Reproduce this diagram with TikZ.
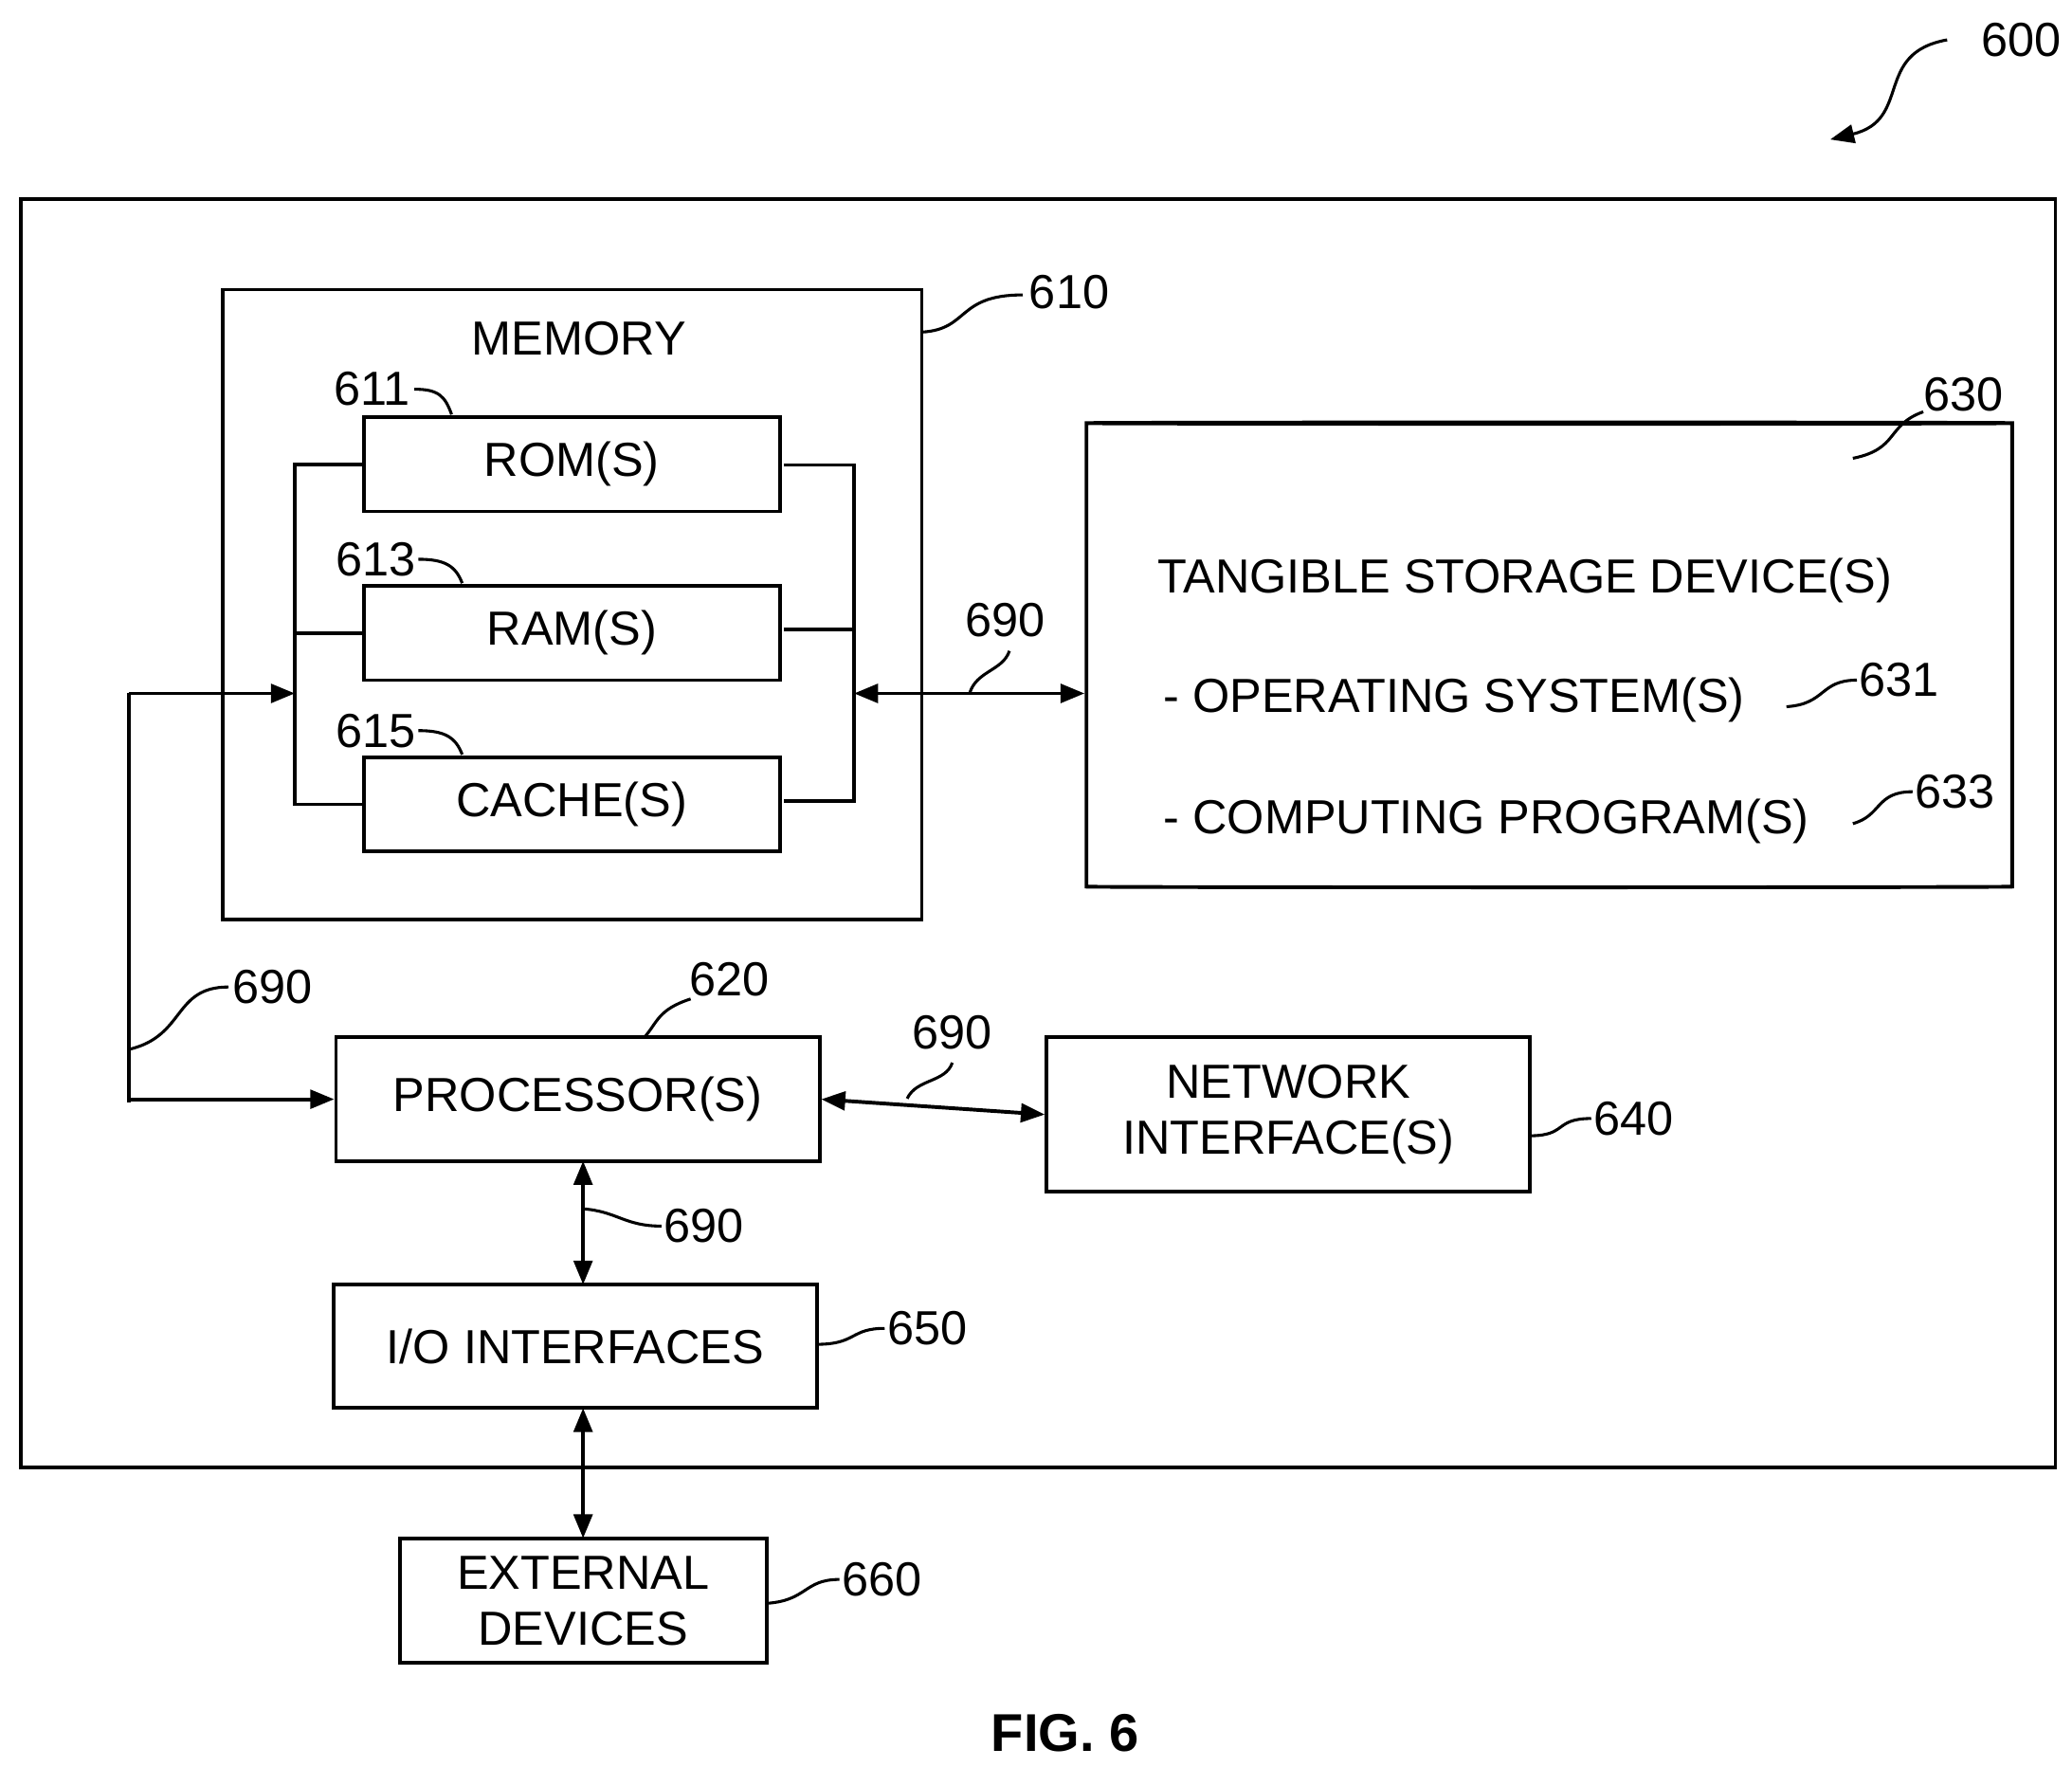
\documentclass[tikz,border=0pt]{standalone}
\usepackage{fontspec}
\setmainfont{Liberation Sans}
\usetikzlibrary{arrows.meta,shapes.geometric}

\begin{document}
\begin{tikzpicture}[x=0.5pt,y=-0.5pt,line width=1.4pt,
  font=\fontsize{18}{21}\selectfont,
  box/.style={draw,rectangle,align=center,inner sep=0pt},
  arr/.style={-{Triangle[length=9pt,width=7pt]}},
  darr/.style={{Triangle[length=9pt,width=7pt]}-{Triangle[length=9pt,width=7pt]}},
  lead/.style={line width=1.1pt}]
\useasboundingbox (0,0) rectangle (1560,1330);

%Outer system box
\node[box,minimum width=766pt,minimum height=477.5pt] (sys) at (781.5,627.5) {};

%Memory
\node[box,minimum width=263pt,minimum height=237pt] (mem) at (431,455) {};
\node (memlbl) at (436,255) {MEMORY};
\node[box,minimum width=156.5pt,minimum height=35.5pt] (rom) at (430.5,349.5) {ROM(S)};
\node[box,minimum width=156.5pt,minimum height=35.5pt] (ram) at (430.5,476.5) {RAM(S)};
\node[box,minimum width=156.5pt,minimum height=35.5pt] (cache) at (430.5,605.5) {CACHE(S)};
\coordinate (lbus) at (222,522);
\coordinate (rbus) at (643,522);
\draw (rom.west) -- (222,349.5) -- (222,605.5) -- (cache.west);
\draw (ram.west) -- (222,476.5);
\draw (590,350) -- (643,350) -- (643,603) -- (590,603);
\draw (590,474) -- (643,474);

%Storage
\node[cylinder,draw,shape border rotate=90,aspect=0.08,minimum width=348.5pt,
  minimum height=175pt] (disk) at (1166.5,494) {};
\node (disklbl) at (1148,437) {TANGIBLE STORAGE DEVICE(S)};
\node[anchor=west] (os) at (868,527) {- OPERATING SYSTEM(S)};
\node[anchor=west] (prog) at (868,618) {- COMPUTING PROGRAM(S)};

%Lower boxes
\node[box,minimum width=182pt,minimum height=46.5pt] (proc) at (435,827.5) {PROCESSOR(S)};
\node[box,minimum width=182pt,minimum height=58pt] (net) at (970,839) {NETWORK\\INTERFACE(S)};
\node[box,minimum width=182pt,minimum height=46.5pt] (io) at (433,1013.5) {I/O INTERFACES};
\node[box,minimum width=138pt,minimum height=47pt] (ext) at (439,1205) {EXTERNAL\\DEVICES};

%Buses
\coordinate (busl) at (97,522);
\coordinate (busb) at (97,830);
\draw[arr] (busl) -- (lbus);
\draw (busl) -- (busb);
\draw[arr] (97,827.5) -- (proc.west);
\draw[darr] (rbus) -- (disk.west |- rbus);
\draw[darr] (proc.east) -- (net.west);
\draw[darr] (439,874) -- (439,967);
\draw[darr] (439,1060) -- (439,1158);

%Reference numerals
\node (n600) at (1522,30) {600};
\draw[lead,arr] (1466,30) .. controls (1410,40) and (1440,90) .. (1378,105);
\node (n610) at (805,220) {610};
\draw[lead] (694,250) .. controls (730,248) and (720,222) .. (770,222);
\node (n611) at (280,293) {611};
\draw[lead] (312,293) .. controls (330,293) and (335,298) .. (340,312);
\node (n613) at (283,421) {613};
\draw[lead] (315,421) .. controls (335,421) and (343,426) .. (348,439);
\node (n615) at (283,550) {615};
\draw[lead] (315,550) .. controls (335,550) and (343,555) .. (348,568);
\node (n630) at (1478,297) {630};
\draw[lead] (1448,310) .. controls (1420,320) and (1430,338) .. (1395,345);
\node (n631) at (1430,512) {631};
\draw[lead] (1398,512) .. controls (1370,512) and (1375,530) .. (1345,532);
\node (n633) at (1472,596) {633};
\draw[lead] (1440,596) .. controls (1412,596) and (1417,614) .. (1395,620);
\node (n690a) at (757,467) {690};
\draw[lead] (760,490) .. controls (755,505) and (735,505) .. (730,522);
\node (n690b) at (205,743) {690};
\draw[lead] (172,743) .. controls (130,743) and (140,780) .. (97,790);
\node (n690c) at (717,777) {690};
\draw[lead] (717,800) .. controls (712,815) and (690,812) .. (683,827);
\node (n690d) at (530,923) {690};
\draw[lead] (498,923) .. controls (470,923) and (465,912) .. (439,910);
\node (n620) at (549,737) {620};
\draw[lead] (520,752) .. controls (495,760) and (495,770) .. (485,781);
\node (n640) at (1230,842) {640};
\draw[lead] (1198,842) .. controls (1170,842) and (1180,855) .. (1152,855);
\node (n650) at (698,1000) {650};
\draw[lead] (666,1000) .. controls (640,1000) and (645,1012) .. (615,1012);
\node (n660) at (664,1189) {660};
\draw[lead] (632,1189) .. controls (605,1189) and (608,1205) .. (577,1207);

\node[font=\fontsize{20}{22}\selectfont\bfseries] (fig) at (802,1305) {FIG. 6};
\end{tikzpicture}
\end{document}
